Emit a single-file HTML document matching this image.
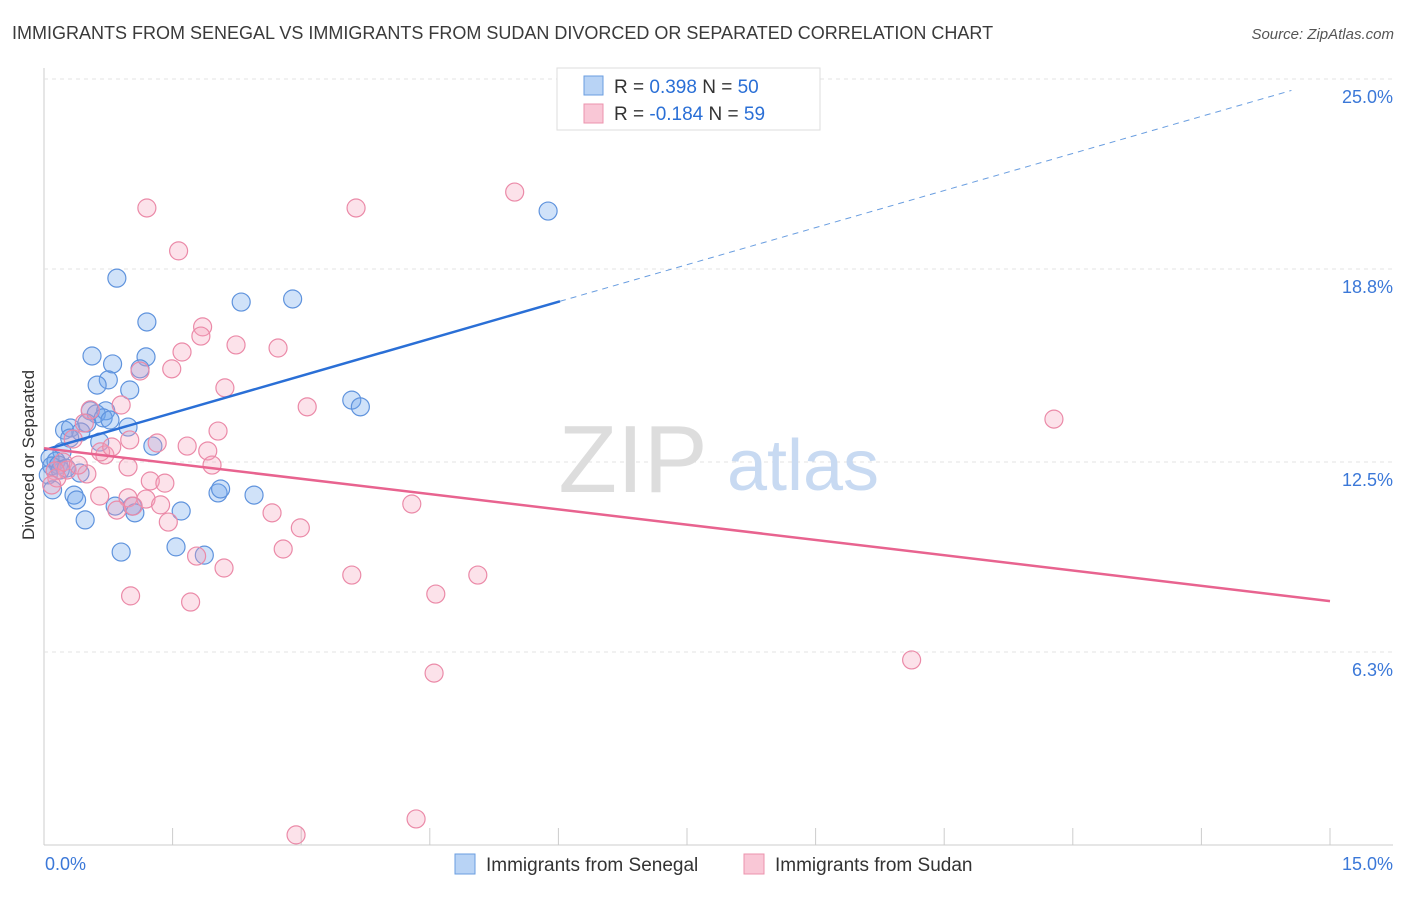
<!DOCTYPE html>
<html><head><meta charset="utf-8"><style>
body{margin:0;background:#fff;font-family:"Liberation Sans",sans-serif;}
svg text{font-family:"Liberation Sans",sans-serif;}
</style></head><body>
<svg id="chart" width="1406" height="892" xmlns="http://www.w3.org/2000/svg">
<text x="12" y="39" font-size="18" fill="#3a3a3a">IMMIGRANTS FROM SENEGAL VS IMMIGRANTS FROM SUDAN DIVORCED OR SEPARATED CORRELATION CHART</text>
<text x="1394" y="39" font-size="15" fill="#555" text-anchor="end" font-style="italic">Source: ZipAtlas.com</text>
<g id="grid"></g>
<g>
<text x="633" y="492" font-size="96" fill="#ddd" text-anchor="middle" font-family="Liberation Serif,serif">ZIP</text>
<text x="803" y="490" font-size="72" fill="#c8daf2" text-anchor="middle">atlas</text>
</g>
<text transform="translate(34,455) rotate(-90)" font-size="17" fill="#333" text-anchor="middle">Divorced or Separated</text>
<g id="marks"></g>
<g>
<rect x="557" y="68" width="263" height="62" fill="#fff" stroke="#ddd"/>
<rect x="584" y="76" width="19" height="19" fill="#b8d3f5" stroke="#6a9ee0"/>
<rect x="584" y="104" width="19" height="19" fill="#f9c7d6" stroke="#ec93ad"/>
<text x="614" y="93" font-size="19" fill="#333">R = <tspan fill="#2a6fd6"> 0.398</tspan>   N = <tspan fill="#2a6fd6">50</tspan></text>
<text x="614" y="120" font-size="19" fill="#333">R = <tspan fill="#2a6fd6">-0.184</tspan>   N = <tspan fill="#2a6fd6">59</tspan></text>
</g>
<g>
<rect x="455" y="854" width="20" height="20" fill="#b8d3f5" stroke="#6a9ee0"/>
<text x="486" y="871" font-size="19" fill="#333">Immigrants from Senegal</text>
<rect x="744" y="854" width="20" height="20" fill="#f9c7d6" stroke="#ec93ad"/>
<text x="775" y="871" font-size="19" fill="#333">Immigrants from Sudan</text>
</g>
</svg>
<script>
const yTicks=[25.0,18.8,12.5,6.3];
const yTickLabels=["25.0%","18.8%","12.5%","6.3%"];
const xTickLabels=["0.0%","15.0%"];
const senegalX=[0.85,1.20,0.56,1.19,0.80,1.12,0.75,0.62,1.00,0.54,0.61,0.72,0.69,0.77,0.50,0.24,0.31,0.43,0.98,0.30,0.65,1.27,0.21,0.07,0.14,0.09,0.17,0.05,0.42,0.10,0.35,0.38,0.48,0.83,1.03,1.06,1.60,2.03,2.06,2.45,0.90,1.54,1.87,2.30,2.90,3.59,3.69,5.88,0.19,0.26];
const senegalY=[18.5,17.07,15.96,15.93,15.70,15.54,15.18,15.01,14.85,14.17,14.07,14.17,13.94,13.87,13.77,13.54,13.61,13.48,13.64,13.28,13.15,13.02,12.83,12.63,12.53,12.37,12.40,12.08,12.14,11.59,11.42,11.26,10.61,11.06,11.06,10.84,10.90,11.49,11.62,11.42,9.56,9.73,9.46,17.72,17.82,14.52,14.30,20.69,12.24,12.30];
const sudanX=[1.20,3.64,5.49,1.57,1.85,1.83,2.24,2.73,1.61,1.49,1.12,2.11,0.90,3.07,11.78,0.54,0.47,1.00,1.67,2.03,1.32,0.34,1.91,1.96,0.71,0.66,0.22,0.27,0.13,0.15,0.50,0.98,1.24,1.41,0.65,0.98,1.19,1.36,1.04,0.85,1.45,2.66,2.99,4.29,2.79,1.78,2.10,3.59,5.06,1.01,1.71,4.57,10.12,4.55,2.94,4.34,0.09,0.40,0.79];
const sudanY=[20.79,20.79,21.31,19.39,16.91,16.61,16.32,16.22,16.09,15.54,15.47,14.92,14.36,14.30,13.90,14.20,13.77,13.22,13.02,13.51,13.12,13.25,12.86,12.40,12.73,12.83,12.50,12.24,12.21,11.98,12.11,12.34,11.88,11.81,11.39,11.33,11.29,11.10,11.06,10.93,10.54,10.84,10.35,11.13,9.66,9.43,9.04,8.81,8.81,8.13,7.93,8.19,6.04,5.61,0.33,0.85,11.75,12.40,12.99];
const senegalTrend=[12.89,24.99];
const sudanTrend=[12.95,7.96];
const X0=44,X1=1330,YB=845,YT=79;
function sx(v){return X0+(X1-X0)*v/15;}
function sy(v){return YB-(YB-YT)*v/25;}
const NS="http://www.w3.org/2000/svg";
function mk(t,a,p){const e=document.createElementNS(NS,t);for(const k in a)e.setAttribute(k,a[k]);p.appendChild(e);return e;}
const grid=document.getElementById('grid');
mk('line',{x1:X0,y1:68,x2:X0,y2:YB,stroke:'#ccc'},grid);
mk('line',{x1:X0,y1:YB,x2:1393,y2:YB,stroke:'#ccc'},grid);
yTicks.forEach((t,i)=>{
 const g=mk('line',{x1:X0,y1:sy(t),x2:1393,y2:sy(t),stroke:'#e3e3e3','stroke-dasharray':'4,4'},grid);
 
 
 const l=mk('text',{x:1393,y:sy(t)+24,'font-size':18,fill:'#3b78d8','text-anchor':'end'},grid);
 l.textContent=yTickLabels[i];
 
 
});
for(let i=0;i<=10;i++){
 const x=sx(i*1.5);
 const t=mk('line',{x1:x,y1:YB-17,x2:x,y2:YB,stroke:'#ccc'},grid);
 
 
}
[[0,'start',45],[15,'end',1393]].forEach((d,i)=>{
 const l=mk('text',{x:d[2],y:870,'font-size':18,fill:'#3b78d8','text-anchor':d[1]},grid);
 l.textContent=xTickLabels[i];
 
 
});
const marks=document.getElementById('marks');
senegalX.forEach((x,i)=>{
 const c=mk('circle',{cx:sx(x),cy:sy(senegalY[i]),r:9,fill:'rgba(110,165,235,0.32)',stroke:'#5f93dd','stroke-width':1.2},marks);
 
 
});
sudanX.forEach((x,i)=>{
 const c=mk('circle',{cx:sx(x),cy:sy(sudanY[i]),r:9,fill:'rgba(245,160,185,0.3)',stroke:'#eb8aa8','stroke-width':1.2},marks);
 
 
});
const solidEnd=(560-X0)/(X1-X0)*15;
const bAt=v=>senegalTrend[0]+(senegalTrend[1]-senegalTrend[0])*v/15;
const b1=mk('line',{x1:sx(0),y1:sy(bAt(0)),x2:sx(solidEnd),y2:sy(bAt(solidEnd)),stroke:'#2a6fd6','stroke-width':2.5},marks);


const b2=mk('line',{x1:sx(solidEnd),y1:sy(bAt(solidEnd)),x2:sx(14.55),y2:sy(bAt(14.55)),stroke:'#6a9ee0','stroke-width':1,'stroke-dasharray':'6,5'},marks);


const p1=mk('line',{x1:sx(0),y1:sy(sudanTrend[0]),x2:sx(15),y2:sy(sudanTrend[1]),stroke:'#e8638f','stroke-width':2.5},marks);


</script>
</body></html>
